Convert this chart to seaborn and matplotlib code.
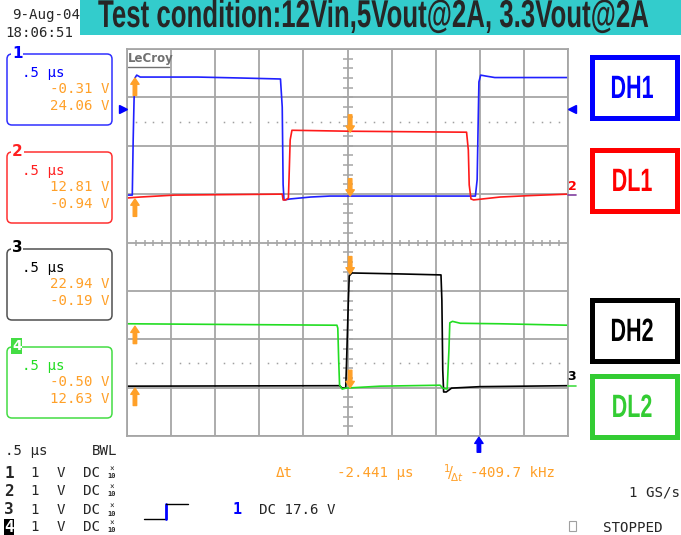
import numpy as np
import matplotlib
matplotlib.use("Agg")
import matplotlib.pyplot as plt
import seaborn as sns
from matplotlib.patches import Rectangle, FancyBboxPatch
from matplotlib.transforms import Affine2D
from matplotlib import patheffects

# -----------------------------
# Scope data (time in us, level in divisions)
# -----------------------------
dh1_t = [0, 0.06, 0.07, 0.08, 0.09, 0.11, 0.15, 0.80, 1.30, 1.74, 1.76, 1.77, 1.78,
         1.85, 2.08, 2.30, 3.95, 3.97, 3.98, 3.99, 4.01, 4.07, 4.17, 5.0]
dh1_v = [4.98, 4.98, 6.12, 6.95, 7.40, 7.46, 7.42, 7.42, 7.40, 7.38, 6.80, 5.20, 4.88,
         4.90, 4.94, 4.96, 4.96, 5.30, 6.33, 7.32, 7.46, 7.44, 7.41, 7.41]

dl1_t = [0, 0.15, 0.54, 1.76, 1.77, 1.80, 1.83, 1.84, 1.85, 1.87, 2.53, 3.85, 3.87,
         3.88, 3.90, 3.93, 4.23, 4.57, 5.0]
dl1_v = [4.92, 4.94, 4.98, 5.00, 4.88, 4.88, 4.92, 5.50, 6.12, 6.32, 6.30, 6.28, 5.91,
         5.19, 4.90, 4.88, 4.94, 4.97, 5.00]

dh2_t = [0, 2.41, 2.44, 2.48, 2.49, 2.51, 2.52, 2.55, 3.10, 3.56, 3.57, 3.58, 3.59,
         3.62, 3.68, 4.00, 5.0]
dh2_v = [1.03, 1.04, 0.99, 0.99, 1.57, 2.81, 3.31, 3.37, 3.35, 3.33, 2.81, 1.36, 0.91,
         0.91, 0.99, 1.02, 1.04]

dl2_t = [0, 2.38, 2.39, 2.40, 2.41, 2.44, 2.48, 2.87, 3.55, 3.58, 3.63, 3.65, 3.66,
         3.69, 3.78, 4.23, 5.0]
dl2_v = [2.32, 2.29, 2.23, 1.57, 1.05, 0.97, 0.99, 1.03, 1.05, 0.99, 0.97, 1.78, 2.34,
         2.37, 2.33, 2.32, 2.29]

trace_names = ["DH1", "DL1", "DH2", "DL2"]
trace_colors = ["#2020ff", "#ff1a1a", "#000000", "#22dd22"]
label_colors = ["#0000ff", "#ff0000", "#000000", "#33cc33"]

# cursors
cursor1_t = 0.09
cursor1_levels = [7.40, 4.90, 2.27, 0.99]
cursor2_t = 2.53
cursor2_levels = [6.28, 4.96, 3.35, 1.00]
trigger_t = 3.99

# channel readouts
ch_ids = ["1", "2", "3", "4"]
ch_colors = ["#0000ff", "#ff2020", "#000000", "#22dd22"]
ch_box_colors = ["#3030ff", "#ff3030", "#505050", "#44dd44"]
ch_timebase = [".5 µs", ".5 µs", ".5 µs", ".5 µs"]
ch_val1 = ["-0.31 V", "12.81 V", "22.94 V", "-0.50 V"]
ch_val2 = ["24.06 V", "-0.94 V", "-0.19 V", "12.63 V"]

title = "Test condition:12Vin,5Vout@2A, 3.3Vout@2A"
dt_text = "-2.441 µs"
freq_text = "-409.7 kHz"

# -----------------------------
# Style
# -----------------------------
sns.set_style("white")
plt.rcParams["font.family"] = ["DejaVu Sans"]
mono = "DejaVu Sans Mono"
orange = "#ffa028"
grid_color = "#a6a6a6"
W, H = 681, 535


class VStretch(patheffects.AbstractPathEffect):
    # stretch glyphs vertically (narrow bold overlay font)
    def __init__(self, sy):
        super().__init__()
        self.sy = sy

    def draw_path(self, renderer, gc, tpath, affine, rgbFace=None):
        renderer.draw_path(gc, tpath, Affine2D().scale(1, self.sy) + affine, rgbFace)


fig = plt.figure(figsize=(W / 100, H / 100), dpi=100)

# -----------------------------
# Graticule
# -----------------------------
ax = fig.add_axes([127 / W, 1 - 436 / H, 441 / W, 387 / H])
ax.set_xlim(0, 5)
ax.set_ylim(0, 8)
ax.set_xticks(np.arange(0, 5.01, 0.5))
ax.set_yticks(np.arange(0, 8.01, 1))
ax.grid(True, color=grid_color, lw=1.3)
ax.tick_params(length=0, labelbottom=False, labelleft=False)
for s in ax.spines.values():
    s.set_color(grid_color)
    s.set_linewidth(1.3)

yt = np.arange(0.2, 8, 0.2)
ax.plot(np.full(len(yt), 2.5), yt, ls="none", marker="_", ms=6.5, mew=1.1, color=grid_color)
xt = np.arange(0.1, 5, 0.1)
ax.plot(xt, np.full(len(xt), 4), ls="none", marker="|", ms=5, mew=1.1, color=grid_color)
xd = np.array([x for x in np.round(np.arange(0.1, 5, 0.1), 2) if abs(x / 0.5 - round(x / 0.5)) > 1e-6])
for yy in [6.5, 1.5]:
    ax.plot(xd, np.full(len(xd), yy), ls="none", marker="s", ms=1.1, mew=0, color="#a0a0a0")

ax.text(0.01, 7.8, "LeCroy", fontsize=8.5, fontweight="bold", color="#707070", va="center")
ax.plot([0.01, 0.48], [7.62, 7.62], color="#707070", lw=1)

# traces
for t, v, c in [(dh1_t, dh1_v, trace_colors[0]), (dl1_t, dl1_v, trace_colors[1]),
                (dh2_t, dh2_v, trace_colors[2]), (dl2_t, dl2_v, trace_colors[3])]:
    sns.lineplot(x=t, y=v, ax=ax, color=c, linewidth=1.2, sort=False, estimator=None)

arrow_style = "simple,head_length=0.45,head_width=0.6,tail_width=0.25"
for lev in cursor1_levels:
    ax.annotate("", xy=(cursor1_t, lev), xytext=(cursor1_t, lev - 0.36),
                arrowprops=dict(arrowstyle=arrow_style, color=orange, shrinkA=0, shrinkB=0))
for lev in cursor2_levels:
    ax.annotate("", xy=(cursor2_t, lev), xytext=(cursor2_t, lev + 0.36),
                arrowprops=dict(arrowstyle=arrow_style, color=orange, shrinkA=0, shrinkB=0))
ax.annotate("", xy=(trigger_t, -0.003), xycoords=("data", "axes fraction"),
            xytext=(trigger_t, -0.042), textcoords=("data", "axes fraction"),
            arrowprops=dict(arrowstyle=arrow_style, color="#0000ff", shrinkA=0, shrinkB=0),
            annotation_clip=False)

# -----------------------------
# Overlay in pixel coordinates
# -----------------------------
ov = fig.add_axes([0, 0, 1, 1], zorder=3)
ov.set_xlim(0, W)
ov.set_ylim(H, 0)
ov.set_axis_off()

# title bar
ov.add_patch(Rectangle((80, -2), W - 80 + 2, 37, facecolor="#33cccc", edgecolor="none", zorder=2))
ov.text(98, 27, title, fontsize=18.6, fontweight="bold", family="Liberation Sans",
        va="baseline", ha="left", zorder=3, path_effects=[VStretch(1.5)])
ov.text(12, 15, "9-Aug-04", family=mono, fontsize=10.2, va="center", zorder=1)
ov.text(5, 33, "18:06:51", family=mono, fontsize=10.2, va="center", zorder=1)

# channel boxes on the left
box_tops = [54, 152, 249, 347]
for i in range(4):
    top = box_tops[i]
    ov.add_patch(FancyBboxPatch((7, top), 105, 71, boxstyle="round,pad=0,rounding_size=5",
                                facecolor="none", edgecolor=ch_box_colors[i], lw=1.1))
    if i == 3:
        ov.text(12, top - 1, ch_ids[i], color="white", fontsize=10, fontweight="bold",
                va="center", ha="left",
                bbox=dict(boxstyle="square,pad=0.05", fc=ch_box_colors[i], ec="none"))
    else:
        ov.text(12, top - 1, ch_ids[i], color=ch_colors[i], fontsize=11, fontweight="bold",
                va="center", ha="left",
                bbox=dict(boxstyle="square,pad=0.05", fc="white", ec="none"))
    ov.text(22, top + 19, ch_timebase[i], family=mono, fontsize=10.2, color=ch_colors[i], va="center")
    ov.text(109, top + 35, ch_val1[i], family=mono, fontsize=10.2, color=orange, va="center", ha="right")
    ov.text(109, top + 52, ch_val2[i], family=mono, fontsize=10.2, color=orange, va="center", ha="right")

# labels on the right
lab_tops = [56.5, 149.5, 299.5, 375.5]
for i in range(4):
    ov.add_patch(Rectangle((591.5, lab_tops[i]), 85, 61, facecolor="white",
                           edgecolor=label_colors[i], lw=3.6))
    ov.text(632, lab_tops[i] + 41.5, trace_names[i], fontsize=15.5, fontweight="bold",
            family="Liberation Sans", color=label_colors[i], ha="center", va="baseline",
            path_effects=[VStretch(1.5)])

# channel markers at grid edges
ov.plot([123], [109], marker=">", ms=6, color="#0000ff", ls="none")
ov.plot([572], [109], marker="<", ms=6, color="#0000ff", ls="none")
ov.text(572, 186, "2", color="#ff0000", fontsize=9, fontweight="bold", ha="center", va="center")
ov.plot([568, 576], [195, 195], color="#8040a0", lw=1.2)
ov.text(572, 376, "3", color="#000000", fontsize=9, fontweight="bold", ha="center", va="center")
ov.plot([568, 576], [386, 386], color="#44dd44", lw=1.2)

# bottom readout
ov.text(5, 451, ".5 µs", family=mono, fontsize=10.2, va="center")
ov.text(92, 451, "BWL", family=mono, fontsize=10.2, va="center")
row_y = [473, 491, 510, 527]
for i in range(4):
    y = row_y[i]
    if i == 3:
        ov.text(4, y, ch_ids[i], family=mono, fontsize=11.5, fontweight="bold", color="white",
                va="center", bbox=dict(boxstyle="square,pad=0.02", fc="black", ec="none"))
    else:
        ov.text(4, y, ch_ids[i], family=mono, fontsize=11.5, fontweight="bold", va="center")
    ov.text(30, y, "1", family=mono, fontsize=10.2, va="center")
    ov.text(57, y, "V", family=mono, fontsize=10.2, va="center")
    ov.text(83, y, "DC", family=mono, fontsize=10.2, va="center")
    ov.text(112, y - 3.5, "×", family=mono, fontsize=5.5, va="center", ha="center")
    ov.text(112, y + 3.5, "10", family=mono, fontsize=5, fontweight="bold", va="center", ha="center")

ov.plot([144, 166], [519, 519], color="black", lw=1)
ov.plot([166, 166], [519, 504], color="#0000ff", lw=2)
ov.plot([166, 188], [504, 504], color="black", lw=1)
ov.text(237, 510, "1", family=mono, fontsize=11, fontweight="bold", color="#0000ff", va="center", ha="center")
ov.text(259, 510, "DC 17.6 V", family=mono, fontsize=10.2, va="center")

ov.text(276, 473, "Δt", family=mono, fontsize=10.2, color=orange, va="center")
ov.text(337, 473, dt_text, family=mono, fontsize=10.2, color=orange, va="center")
ov.text(443, 473, r"$^{1}\!/\!_{\Delta t}$", fontsize=10.5, color=orange, va="center")
ov.text(470, 473, freq_text, family=mono, fontsize=10.2, color=orange, va="center")

ov.text(680, 493, "1 GS/s", family=mono, fontsize=10.2, va="center", ha="right")
ov.add_patch(Rectangle((568.5, 521), 7, 10, facecolor="none", edgecolor="#a0a0a0", lw=0.8))
ov.text(603, 528, "STOPPED", family=mono, fontsize=10.2, va="center")

fig.savefig("out.png", dpi=100)
